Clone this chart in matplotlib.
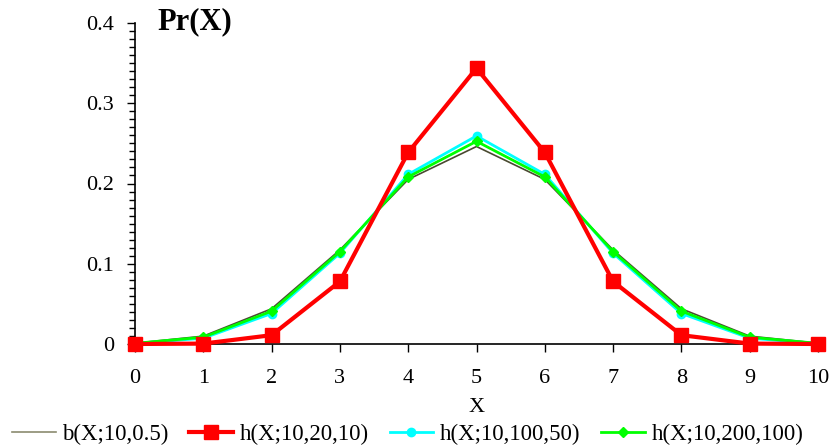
import matplotlib
matplotlib.use("Agg")
import matplotlib.pyplot as plt
from matplotlib.ticker import MultipleLocator

x = [0, 1, 2, 3, 4, 5, 6, 7, 8, 9, 10]
b_10_05 = [0.001, 0.0098, 0.0439, 0.1172, 0.2051, 0.2461, 0.2051, 0.1172, 0.0439, 0.0098, 0.001]
h_10_20_10 = [0.0, 0.0005, 0.011, 0.0779, 0.2387, 0.3437, 0.2387, 0.0779, 0.011, 0.0005, 0.0]
h_10_100_50 = [0.0006, 0.0072, 0.038, 0.1131, 0.2114, 0.2593, 0.2114, 0.1131, 0.038, 0.0072, 0.0006]
h_10_200_100 = [0.0008, 0.0085, 0.0409, 0.1151, 0.2082, 0.2526, 0.2082, 0.1151, 0.0409, 0.0085, 0.0008]
labels = ["b(X;10,0.5)", "h(X;10,20,10)", "h(X;10,100,50)", "h(X;10,200,100)"]

plt.rcParams['font.family'] = ['Liberation Serif', 'DejaVu Serif']

W, H = 833, 446
fig = plt.figure(figsize=(W / 100, H / 100), dpi=100)
ax = fig.add_axes([135 / W, 1 - 344 / H, (818 - 135) / W, (344 - 23) / H])

ax.plot(x, b_10_05, color='#4a4a30', lw=1.2, label=labels[0], zorder=2)
ax.plot(x, h_10_20_10, color='#ff0000', lw=3, marker='s', ms=10, label=labels[1], zorder=5)
ax.plot(x, h_10_100_50, color='#00ffff', lw=2, marker='o', ms=6, label=labels[2], zorder=3)
ax.plot(x, h_10_200_100, color='#00ff00', lw=2, marker='D', ms=5, label=labels[3], zorder=4)

ax.set_xlim(0, 10)
ax.set_ylim(0, 0.4)
ax.xaxis.set_major_locator(MultipleLocator(1))
ax.yaxis.set_minor_locator(MultipleLocator(0.01))
ax.set_yticks([0, 0.1, 0.2, 0.3, 0.4])
ax.set_yticklabels(['0', '0.1', '0.2', '0.3', '0.4'])
for s in ['top', 'right']:
    ax.spines[s].set_visible(False)
for s in ['left', 'bottom']:
    ax.spines[s].set_linewidth(1.2)
ax.tick_params(axis='both', which='major', labelsize=16, length=6, width=1, direction='out')
ax.tick_params(axis='x', which='major', pad=12)
ax.tick_params(axis='y', which='major', pad=9)
ax.tick_params(axis='y', which='minor', length=4, width=1, direction='out')
for c in ax.lines:
    c.set_clip_on(False)

ax.set_xlabel('X', fontsize=16, labelpad=7)
fig.text(157 / W, 1 - 22 / H, 'Pr(X)', fontsize=22, fontweight='bold', va='center', ha='left')

leg = fig.legend(loc='lower left', bbox_to_anchor=(12 / W, 0.003), ncol=4, frameon=False,
                 fontsize=16.5, handlelength=1.9, handletextpad=0.3, columnspacing=0.9,
                 borderpad=0.0, borderaxespad=0.0)
leg.legend_handles[0].set_color('#8b8b70')

fig.savefig('out.png', dpi=100)
